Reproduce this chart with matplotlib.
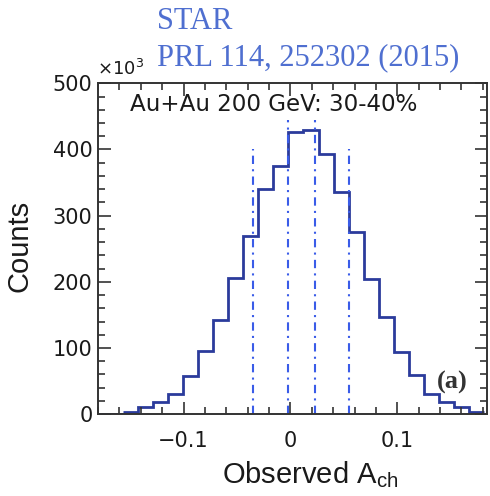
import numpy as np
import matplotlib
matplotlib.use("Agg")
import matplotlib.pyplot as plt
from matplotlib.ticker import MultipleLocator

# histogram of observed A_ch (counts in units of 10^3)
edges = [-0.1570, -0.1429, -0.1288, -0.1147, -0.1006, -0.0865, -0.0724,
         -0.0583, -0.0442, -0.0301, -0.0160, -0.0019, 0.0122, 0.0263,
         0.0404, 0.0545, 0.0686, 0.0827, 0.0968, 0.1109, 0.1250, 0.1391,
         0.1532, 0.1673, 0.1814]
counts = [3.5, 11, 19, 31, 57, 96, 143, 206, 270, 340, 375, 426,
          429, 393, 336, 276, 205, 147, 94, 59, 31, 19, 11, 3.5]

# dash-dot markers
vlines_x = [-0.0351, -0.0025, 0.0233, 0.0549]
vlines_top = [400, 445, 445, 400]

hist_color = "#2b3b9c"
line_color = "#3a5ce8"

plt.rcParams['font.family'] = ['DejaVu Sans']

fig = plt.figure(figsize=(4.9, 4.96), dpi=100)
ax = fig.add_axes([0.2, 0.165, 0.794, 0.667])

ax.stairs(counts, edges, color=hist_color, linewidth=2.0, baseline=None)
# zero level outside the filled bins
ax.plot([-0.18, edges[0]], [0, 0], color=hist_color, linewidth=2.0)
ax.plot([edges[-1], 0.184], [0, 0], color=hist_color, linewidth=2.0)

for xv, top in zip(vlines_x, vlines_top):
    ax.plot([xv, xv], [0, top], color=line_color, linewidth=1.5,
            linestyle=(0, (4, 2.5, 1, 2.5)))

ax.set_xlim(-0.18, 0.184)
ax.set_ylim(0, 500)
ax.xaxis.set_major_locator(MultipleLocator(0.1))
ax.xaxis.set_minor_locator(MultipleLocator(0.02))
ax.yaxis.set_major_locator(MultipleLocator(100))
ax.yaxis.set_minor_locator(MultipleLocator(20))
ax.tick_params(which='both', direction='in', top=True, right=True,
               width=1.2, labelsize=15, colors='#333333',
               labelcolor='#1a1a1a')
ax.tick_params(which='major', length=9)
ax.tick_params(which='minor', length=5)
ax.tick_params(axis='x', which='major', pad=12)
ax.tick_params(axis='y', which='major', pad=4)
ax.set_xticklabels(['', '\u22120.1', '0', '0.1', ''])
for s in ax.spines.values():
    s.set_linewidth(1.4)
    s.set_color('#333333')

ax.set_xlabel('Observed A$_{\\mathregular{ch}}$', fontsize=21,
              family='Liberation Sans', color='#1a1a1a')
ax.set_ylabel('Counts', fontsize=21, family='Liberation Sans',
              color='#1a1a1a')
ax.xaxis.set_label_coords(0.545, -0.135)
ax.yaxis.set_label_coords(-0.167, 0.507)

ax.text(0.082, 0.972, 'Au+Au 200 GeV: 30-40%', transform=ax.transAxes,
        fontsize=16.6, va='top', ha='left', color='#1a1a1a')
ax.text(0.871, 0.097, '(a)', transform=ax.transAxes, fontsize=19,
        family='Liberation Serif', fontweight='bold', ha='left', va='center',
        color='#333333')

fig.text(0.198, 0.849, '\u00d710$^{3}$', fontsize=13, ha='left',
         va='baseline', color='#1a1a1a')
fig.text(0.32, 0.9415, 'STAR', fontsize=22, family='Liberation Serif',
         color='#4f6fd0', ha='left', va='baseline')
fig.text(0.32, 0.869, 'PRL 114, 252302 (2015)', fontsize=22,
         family='Liberation Serif', color='#4f6fd0', ha='left', va='baseline')

fig.savefig('out.png', dpi=100)
